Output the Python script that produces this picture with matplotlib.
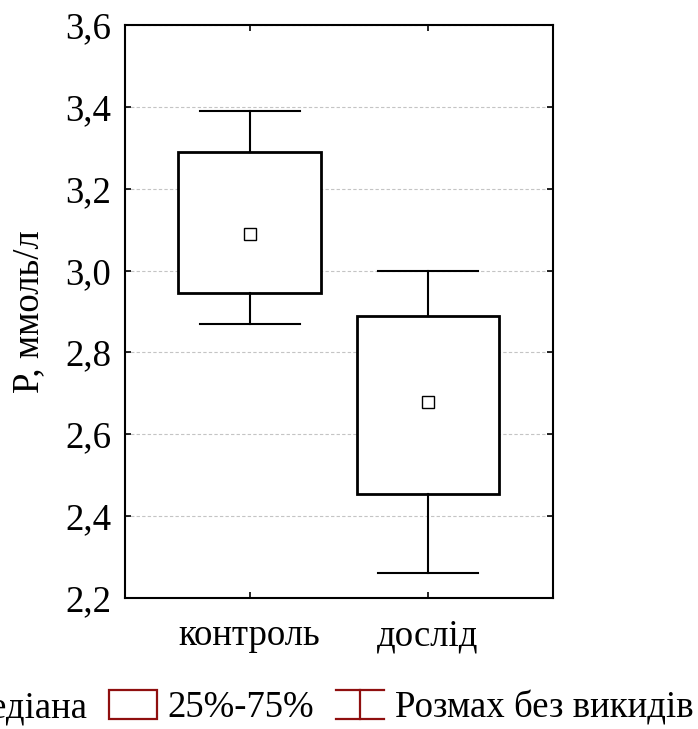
import matplotlib
matplotlib.use("Agg")
import matplotlib.pyplot as plt
from matplotlib.lines import Line2D
from matplotlib.patches import Patch
from matplotlib.legend_handler import HandlerBase

plt.rcParams['font.family'] = ['Liberation Serif', 'DejaVu Serif']

# data
groups = ["контроль", "дослід"]
medians = [3.09, 2.68]
q1 = [2.945, 2.455]
q3 = [3.29, 2.89]
whis_lo = [2.87, 2.26]
whis_hi = [3.39, 3.00]
positions = [1, 2]

yticks = [2.2, 2.4, 2.6, 2.8, 3.0, 3.2, 3.4, 3.6]
ytick_labels = ["2,2", "2,4", "2,6", "2,8", "3,0", "3,2", "3,4", "3,6"]
legend_labels = ["Медіана", "25%-75%", "Розмах без викидів"]

dark_red = "#8f0f0f"
fs = 26.5

fig = plt.figure(figsize=(6.98, 7.29), dpi=100)
ax = fig.add_axes([0.179, 0.1797, 0.613, 0.786])

stats = []
for i in range(len(groups)):
    stats.append({"med": medians[i], "q1": q1[i], "q3": q3[i],
                  "whislo": whis_lo[i], "whishi": whis_hi[i], "fliers": []})

ax.bxp(stats, positions=positions, widths=0.8, capwidths=0.56,
       patch_artist=True, showfliers=False, zorder=3,
       boxprops=dict(facecolor="white", edgecolor="black", linewidth=2),
       whiskerprops=dict(color="black", linewidth=1.5),
       capprops=dict(color="black", linewidth=1.5),
       medianprops=dict(visible=False))
ax.plot(positions, medians, "s", markersize=8.5, markerfacecolor="white",
        markeredgecolor="black", markeredgewidth=1.0, zorder=4)

ax.set_xlim(0.3, 2.7)
ax.set_ylim(2.2, 3.6)
ax.set_yticks(yticks)
ax.set_yticklabels(ytick_labels)
ax.set_xticks(positions)
ax.set_xticklabels(groups)
ax.tick_params(direction="in", length=4, width=1.2, top=True, right=True,
               labelsize=fs, pad=10)
ax.tick_params(axis="x", pad=15)
ax.yaxis.grid(True, linestyle=(0, (3, 2)), color="#c4c4c4", linewidth=0.8, zorder=0)
ax.set_axisbelow(True)
for s in ax.spines.values():
    s.set_linewidth(1.5)

ax.set_ylabel("P, ммоль/л", fontsize=fs)
ax.yaxis.set_label_coords(-0.184, 0.5)


class WhiskerHandler(HandlerBase):
    def create_artists(self, legend, orig_handle, xdescent, ydescent,
                       width, height, fontsize, trans):
        x0, x1 = -xdescent, -xdescent + width
        y0, y1 = -ydescent, -ydescent + height
        xm = (x0 + x1) / 2
        kw = dict(color=dark_red, linewidth=1.6, transform=trans)
        return [Line2D([x0, x1], [y1, y1], **kw),
                Line2D([xm, xm], [y0, y1], **kw),
                Line2D([x0, x1], [y0, y0], **kw)]


h_med = Line2D([], [], linestyle="none", marker="s", markersize=8.5,
               markerfacecolor="white", markeredgecolor=dark_red)
h_box = Patch(facecolor="white", edgecolor=dark_red, linewidth=1.6)
h_whis = Line2D([], [])

fig.legend([h_med, h_box, h_whis], legend_labels, ncol=3, frameon=False,
           loc="center left", bbox_to_anchor=(-0.145, 0.029),
           fontsize=fs, handlelength=1.30, handleheight=0.815,
           handletextpad=0.3, columnspacing=0.6, borderpad=0, borderaxespad=0,
           handler_map={h_whis: WhiskerHandler()})

fig.savefig("out.png", dpi=100)
